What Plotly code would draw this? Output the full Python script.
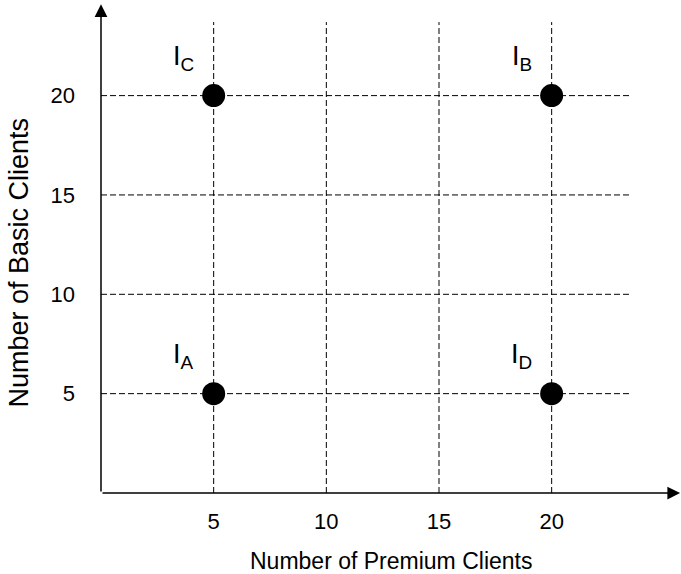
import plotly.graph_objects as go

# Data
point_names = ["A", "B", "C", "D"]
premium_clients = [5, 20, 5, 20]
basic_clients = [5, 20, 20, 5]
x_ticks = [5, 10, 15, 20]
y_ticks = [5, 10, 15, 20]

X_TITLE = "Number of Premium Clients"
Y_TITLE = "Number of Basic Clients"

# Layout constants
X_MAX = 25.74
Y_MAX = 24.56
X_GRID_END = 23.5
Y_GRID_END = 23.7
X_ARROW = 25.7
Y_ARROW = 24.6
Y_TITLE_POS = 11.6
FONT = "Liberation Sans, Arial, sans-serif"

fig = go.Figure()

dash = "6px,3px"
for v in x_ticks:
    fig.add_trace(go.Scatter(x=[v, v], y=[0, Y_GRID_END], mode="lines",
                             line=dict(color="black", width=1, dash=dash),
                             hoverinfo="skip", showlegend=False))
for v in y_ticks:
    fig.add_trace(go.Scatter(x=[0, X_GRID_END], y=[v, v], mode="lines",
                             line=dict(color="black", width=1, dash=dash),
                             hoverinfo="skip", showlegend=False))

fig.add_trace(go.Scatter(x=premium_clients, y=basic_clients, mode="markers",
                         marker=dict(color="black", size=23, line=dict(width=0)),
                         showlegend=False))

# Axis arrows
fig.add_annotation(x=X_ARROW, y=0, ax=0, ay=0, axref="x", ayref="y", xref="x", yref="y",
                   text="", showarrow=True, arrowhead=2, arrowsize=1.7, arrowwidth=1.5,
                   arrowcolor="black")
fig.add_annotation(x=0, y=Y_ARROW, ax=0, ay=0, axref="x", ayref="y", xref="x", yref="y",
                   text="", showarrow=True, arrowhead=2, arrowsize=1.7, arrowwidth=1.5,
                   arrowcolor="black")

# Point labels
for name, px, py in zip(point_names, premium_clients, basic_clients):
    fig.add_annotation(x=px, y=py, xref="x", yref="y", text=f"I<sub>{name}</sub>",
                       showarrow=False, xshift=-30, yshift=38,
                       font=dict(family=FONT, size=27, color="black"))

# Axis titles
fig.add_annotation(x=0, y=Y_TITLE_POS, xref="paper", yref="y", text=Y_TITLE,
                   textangle=-90, showarrow=False, xanchor="center", yanchor="middle",
                   xshift=-82, font=dict(family=FONT, size=27, color="black"))
fig.add_annotation(x=0.5, y=0, xref="paper", yref="paper", text=X_TITLE,
                   showarrow=False, xanchor="center", yanchor="middle",
                   yshift=-68, font=dict(family=FONT, size=23, color="black"))

fig.update_layout(
    width=681, height=574,
    margin=dict(l=101, r=0, t=5, b=81),
    paper_bgcolor="white", plot_bgcolor="white",
    font=dict(family=FONT, color="black"),
    xaxis=dict(range=[0, X_MAX], tickvals=x_ticks, showgrid=False, zeroline=False,
               showline=False, ticks="", ticklabelstandoff=13,
               tickfont=dict(size=22, family=FONT, color="black")),
    yaxis=dict(range=[0, Y_MAX], tickvals=y_ticks, showgrid=False, zeroline=False,
               showline=False, ticks="", ticklabelstandoff=25,
               tickfont=dict(size=22, family=FONT, color="black")),
)

fig.write_html("out.html", config={"displayModeBar": False},
               post_script="document.body.style.margin='0px';")
